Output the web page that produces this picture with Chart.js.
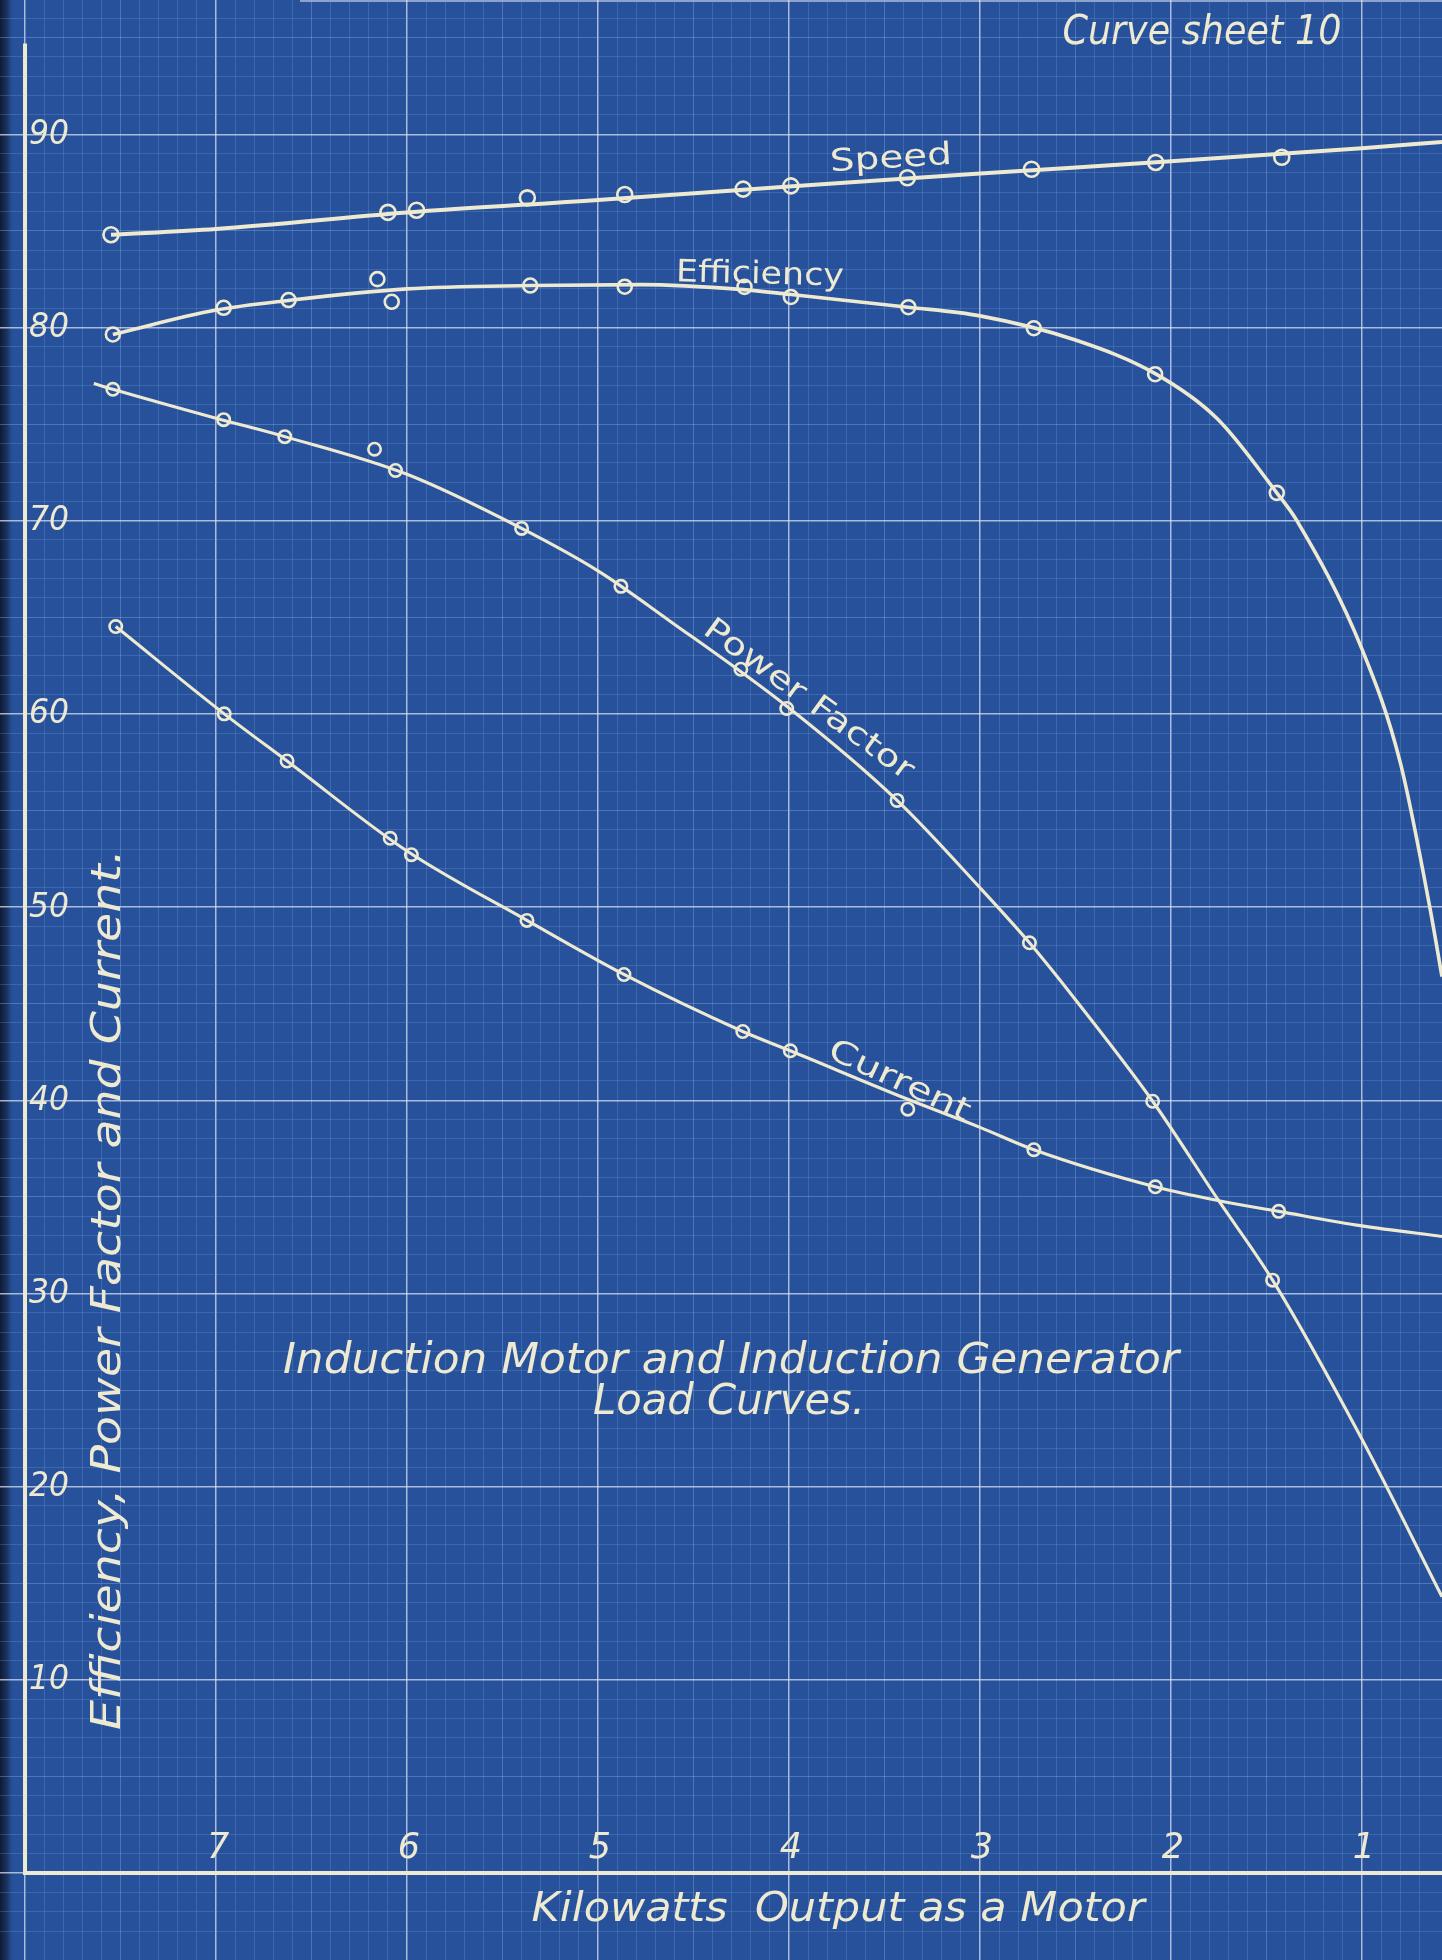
<!DOCTYPE html>
<html>
<head>
<meta charset="utf-8">
<title>Induction Motor and Induction Generator Load Curves</title>
<script src="https://cdn.jsdelivr.net/npm/chart.js@4.4.1/dist/chart.umd.min.js"></script>
<style>
  html, body { margin: 0; padding: 0; background: #27519a; }
  #wrap { position: relative; width: 1442px; height: 1960px; }
</style>
</head>
<body>
<div id="wrap"><canvas id="sheet"></canvas></div>
<script>
// ---- Test readings: kilowatts output as a motor vs. per cent ----
const speedKw  = [7.55, 6.10, 5.95, 5.37, 4.86, 4.24, 3.99, 3.38, 2.73, 2.08, 1.42];
const speedVal = [84.8, 85.96, 86.07, 86.71, 86.88, 87.16, 87.33, 87.75, 88.19, 88.54, 88.81];

const effKw  = [7.54, 6.96, 6.62, 6.155, 6.08, 5.355, 4.86, 4.233, 3.99, 3.375, 2.718, 2.083, 1.446];
const effVal = [79.64, 81.02, 81.42, 82.5, 81.33, 82.17, 82.11, 82.1, 81.58, 81.05, 79.96, 77.58, 71.44];

const pfKw  = [7.54, 6.96, 6.64, 6.17, 6.06, 5.40, 4.88, 4.252, 4.012, 3.434, 2.741, 2.096, 1.468];
const pfVal = [76.8, 75.23, 74.35, 73.7, 72.6, 69.6, 66.6, 62.31, 60.28, 55.52, 48.15, 39.95, 30.69];

const curKw  = [7.525, 6.957, 6.628, 6.088, 5.977, 5.372, 4.864, 4.242, 3.993, 3.378, 2.718, 2.082, 1.436];
const curVal = [64.52, 60.0, 57.56, 53.56, 52.71, 49.31, 46.51, 43.56, 42.56, 39.54, 37.44, 35.52, 34.25];

// ---- Faired curves drawn through the readings ----
const speedCurveKw  = [7.55, 7.0, 6.0, 5.0, 4.0, 3.0, 2.0, 1.0, 0.581];
const speedCurveVal = [84.8, 85.1, 85.95, 86.6, 87.3, 87.97, 88.6, 89.28, 89.6];

const effCurveKw  = [7.54, 7.0, 6.62, 6.0, 5.35, 4.77, 4.24, 4.0, 3.375, 3.0, 2.5, 2.08, 1.76, 1.446, 1.341, 1.0, 0.8, 0.645, 0.581];
const effCurveVal = [79.64, 80.9, 81.4, 82.0, 82.17, 82.22, 81.96, 81.72, 81.05, 80.6, 79.35, 77.6, 75.3, 71.44, 70.0, 63.35, 57.5, 50.0, 46.4];

const pfCurveKw  = [7.64, 7.54, 7.0, 6.64, 6.0, 5.4, 5.0, 4.63, 4.0, 3.434, 3.0, 2.741, 2.5, 2.096, 1.75, 1.468, 1.0, 0.581];
const pfCurveVal = [77.1, 76.8, 75.3, 74.35, 72.4, 69.6, 67.4, 64.85, 60.3, 55.52, 51.0, 48.15, 45.2, 39.95, 34.8, 30.69, 22.45, 14.3];

const curCurveKw  = [7.525, 6.957, 6.628, 6.0, 5.372, 4.864, 4.242, 3.993, 3.378, 3.0, 2.718, 2.082, 1.75, 1.436, 1.0, 0.581];
const curCurveVal = [64.52, 60.0, 57.56, 52.9, 49.31, 46.51, 43.56, 42.56, 40.05, 38.6, 37.44, 35.52, 34.8, 34.25, 33.5, 32.95];

// ---- Axis labelling ----
const xTicks = [7, 6, 5, 4, 3, 2, 1];
const yTicks = [10, 20, 30, 40, 50, 60, 70, 80, 90];
const xTitle = 'Kilowatts  Output as a Motor';
const yTitle = 'Efficiency, Power Factor and Current.';
const titleLines = ['Induction Motor and Induction Generator', 'Load Curves.'];
const sheetLabel = 'Curve sheet 10';
const curveNames = ['Speed', 'Efficiency', 'Power Factor', 'Current'];

// ---- Styling ----
const INK = '#eeead2';
const PAPER = '#27519a';
const FONT = '"DejaVu Sans", "Liberation Sans", "Noto Sans", sans-serif';

const pts = (kw, val) => kw.map((k, i) => ({ x: k, y: val[i] }));

function curve(kw, val, width) {
  return {
    data: pts(kw, val), showLine: true, borderColor: INK, borderWidth: width,
    pointRadius: 0, pointHoverRadius: 0, cubicInterpolationMode: 'monotone', fill: false
  };
}
function marks(kw, val, r) {
  return {
    data: pts(kw, val), showLine: false, pointRadius: r, pointHoverRadius: r,
    pointBorderWidth: 2.6, pointBorderColor: INK, pointBackgroundColor: 'rgba(0,0,0,0)'
  };
}

// grid-paper rulings: fine every unit, slightly heavier every 5, white every 10
function ruling(v, per) {
  const k = Math.round(v * per);
  if (Math.abs(v * per - k) > 1e-6) return 0;
  if (k % 10 === 0) return 3;
  if (k % 5 === 0) return 2;
  return 1;
}
const gridColours = ['rgba(0,0,0,0)', 'rgba(120,165,230,0.26)', 'rgba(140,180,238,0.38)', 'rgba(222,230,245,0.72)'];
const gridWidths  = [0, 1, 1, 1.5];

function drawText(ctx, text, x, y, o) {
  ctx.save();
  ctx.translate(x, y);
  if (o.angle) ctx.rotate(o.angle * Math.PI / 180);
  ctx.font = (o.italic === false ? '' : 'italic ') + o.size + 'px ' + FONT;
  ctx.fillStyle = INK;
  ctx.textAlign = o.align || 'center';
  ctx.textBaseline = o.baseline || 'middle';
  if (o.width) {
    const w = ctx.measureText(text).width;
    ctx.scale(o.width / w, 1);
  }
  ctx.fillText(text, 0, 0);
  ctx.restore();
}

// paper tone behind the rulings
const paperPlugin = {
  id: 'paper',
  beforeDraw(chart) {
    const { ctx, width, height } = chart;
    ctx.save();
    ctx.fillStyle = PAPER;
    ctx.fillRect(0, 0, width, height);
    const g = ctx.createLinearGradient(0, 0, 14, 0);
    g.addColorStop(0, 'rgba(14,22,44,0.95)');
    g.addColorStop(0.55, 'rgba(20,34,66,0.6)');
    g.addColorStop(1, 'rgba(39,82,156,0)');
    ctx.fillStyle = g;
    ctx.fillRect(0, 0, 14, height);
    ctx.strokeStyle = 'rgba(225,232,245,0.55)';
    ctx.lineWidth = 2;
    ctx.beginPath();
    ctx.moveTo(300, 1);
    ctx.lineTo(width, 1);
    ctx.stroke();
    ctx.restore();
  }
};

// axes, numbering and lettering
const letteringPlugin = {
  id: 'lettering',
  beforeDatasetsDraw(chart) {
    const { ctx } = chart;
    const xs = chart.scales.x, ys = chart.scales.y;
    const x0 = xs.getPixelForValue(8), y0 = ys.getPixelForValue(0);
    ctx.save();
    ctx.strokeStyle = INK;
    ctx.lineWidth = 4;
    ctx.beginPath();
    ctx.moveTo(x0, ys.getPixelForValue(94.7));
    ctx.lineTo(x0, y0);
    ctx.lineTo(xs.right, y0);
    ctx.stroke();
    ctx.restore();
  },
  afterDatasetsDraw(chart) {
    const { ctx } = chart;
    const xs = chart.scales.x, ys = chart.scales.y;
    const X = v => xs.getPixelForValue(v), Y = v => ys.getPixelForValue(v);

    yTicks.forEach(v => drawText(ctx, String(v), X(8) + 4, Y(v) + 1, { size: 33, align: 'left', width: 40 }));
    xTicks.forEach(v => drawText(ctx, String(v), X(v) + 2, Y(0) - 24, { size: 35 }));

    drawText(ctx, yTitle, X(7.555), Y(30.2), { size: 40, angle: -90, width: 881 });
    drawText(ctx, xTitle, X(3.743), Y(-1.92), { size: 40, width: 613 });
    drawText(ctx, titleLines[0], X(4.304), Y(26.45), { size: 42, width: 896 });
    drawText(ctx, titleLines[1], X(4.314), Y(24.35), { size: 42, width: 272 });
    drawText(ctx, sheetLabel, X(1.838), Y(95.2), { size: 40, width: 279 });

    drawText(ctx, curveNames[0], X(3.466), Y(88.7), { size: 31, italic: false, angle: -3.5, width: 122 });
    drawText(ctx, curveNames[1], X(4.152), Y(82.7), { size: 31, italic: false, angle: 1.5, width: 168 });
    drawText(ctx, curveNames[2], X(3.90), Y(60.7), { size: 31, italic: false, angle: 36, width: 252 });
    drawText(ctx, curveNames[3], X(3.424), Y(40.95), { size: 31, italic: false, angle: 25, width: 153 });
  }
};

new Chart(document.getElementById('sheet'), {
  type: 'scatter',
  data: {
    datasets: [
      curve(speedCurveKw, speedCurveVal, 4),
      curve(effCurveKw, effCurveVal, 3.6),
      curve(pfCurveKw, pfCurveVal, 3.1),
      curve(curCurveKw, curCurveVal, 3.1),
      marks(speedKw, speedVal, 7.5),
      marks(effKw, effVal, 7),
      marks(pfKw, pfVal, 6.2),
      marks(curKw, curVal, 6.2)
    ]
  },
  options: {
    responsive: true,
    maintainAspectRatio: false,
    animation: false,
    events: [],
    layout: { padding: 0, autoPadding: false },
    plugins: { legend: { display: false }, tooltip: { enabled: false } },
    scales: {
      x: {
        type: 'linear', reverse: true, min: 0.581, max: 8.131,
        ticks: { display: false, stepSize: 0.1 },
        border: { display: false },
        grid: {
          drawTicks: false,
          color: c => gridColours[ruling(c.tick.value, 10)],
          lineWidth: c => gridWidths[ruling(c.tick.value, 10)]
        }
      },
      y: {
        type: 'linear', min: -4.5, max: 96.95,
        ticks: { display: false, stepSize: 1 },
        border: { display: false },
        grid: {
          drawTicks: false,
          color: c => gridColours[ruling(c.tick.value, 1)],
          lineWidth: c => gridWidths[ruling(c.tick.value, 1)]
        }
      }
    }
  },
  plugins: [paperPlugin, letteringPlugin]
});
</script>
</body>
</html>
